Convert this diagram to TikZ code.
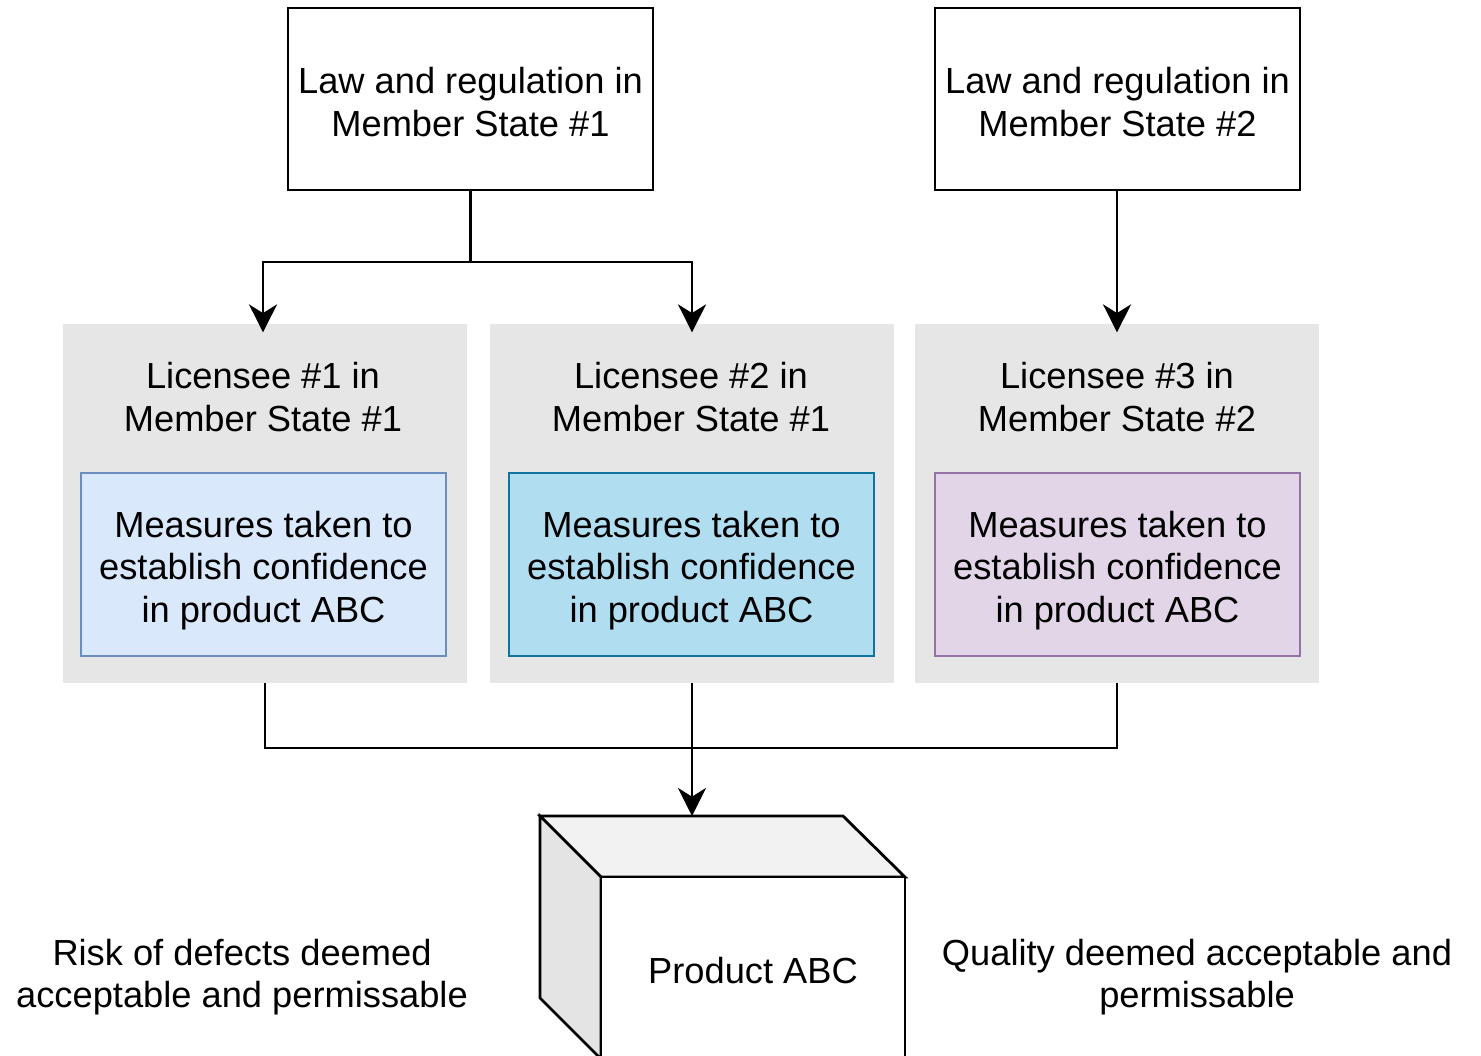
\documentclass[tikz,border=0pt]{standalone}
\usepackage{fontspec}
\setmainfont{Liberation Sans}
\usetikzlibrary{arrows.meta}
\definecolor{panelgray}{HTML}{E6E6E6}
\definecolor{bluefill}{HTML}{DAE8FC}
\definecolor{bluedraw}{HTML}{6C8EBF}
\definecolor{cyanfill}{HTML}{B1DDF0}
\definecolor{cyandraw}{HTML}{10739E}
\definecolor{purplefill}{HTML}{E1D5E7}
\definecolor{purpledraw}{HTML}{9673A6}
\definecolor{cubetopfill}{HTML}{F2F2F2}
\definecolor{cubesidefill}{HTML}{E4E4E4}
\begin{document}
\begin{tikzpicture}[x=0.75pt,y=-0.75pt,
  every node/.style={font=\fontsize{27.2}{32}\selectfont, align=center, inner sep=0pt},
  lawbox/.style={draw=black, line width=2.1pt, fill=white, minimum width=273.75pt, minimum height=136.5pt},
  panel/.style={fill=panelgray, minimum width=303pt, minimum height=269.25pt},
  measure/.style={line width=2.1pt, minimum width=273.75pt, minimum height=137.25pt},
  wire/.style={draw=black, line width=2.1pt},
  arrow/.style={wire, -{Stealth[length=21pt, width=21pt, inset=6.5pt]}},
  facestyle/.style={draw=black, line width=2.1pt, line join=miter}]
\clip (0,0) rectangle (1481,1056);
\fill[white] (0,0) rectangle (1481,1056);

% regulation boxes
\node[lawbox] (law1) at (470.5,99) {};
\node (law1text) at ([yshift=-2.3pt]law1.center) {Law and regulation in\\Member State \#1};
\node[lawbox] (law2) at (1117.5,99) {};
\node (law2text) at ([yshift=-2.3pt]law2.center) {Law and regulation in\\Member State \#2};

% licensee panels
\node[panel] (p1) at (265,503.5) {};
\node[panel] (p2) at (692,503.5) {};
\node[panel] (p3) at (1117,503.5) {};
\node (t1) at (263,397) {Licensee \#1 in\\Member State \#1};
\node (t2) at (691,397) {Licensee \#2 in\\Member State \#1};
\node (t3) at (1117,397) {Licensee \#3 in\\Member State \#2};

% measures inside each panel
\node[measure, fill=bluefill, draw=bluedraw] (m1) at (263.5,564.5) {};
\node[measure, fill=cyanfill, draw=cyandraw] (m2) at (691.5,564.5) {};
\node[measure, fill=purplefill, draw=purpledraw] (m3) at (1117.5,564.5) {};
\node (m1text) at ([yshift=-4.5pt]m1.center) {Measures taken to\\establish confidence\\in product ABC};
\node (m2text) at ([yshift=-4.5pt]m2.center) {Measures taken to\\establish confidence\\in product ABC};
\node (m3text) at ([yshift=-4.5pt]m3.center) {Measures taken to\\establish confidence\\in product ABC};

% product cube
\filldraw[facestyle, fill=cubetopfill] (540,816) -- (843,816) -- (905,877) -- (601,877) -- cycle;
\filldraw[facestyle, fill=cubesidefill] (540,816) -- (601,877) -- (601,1059) -- (540,998) -- cycle;
\filldraw[facestyle, fill=white] (601,877) rectangle (905,1059);
\node (prod) at (753,971) {Product ABC};
\coordinate (cubetop) at (692,816);

% side notes
\node (risk) at (242,977) {Risk of defects deemed\\acceptable and permissable};
\node (qual) at (1197,977) {Quality deemed acceptable and\\permissable};

% connectors from regulations to licensees
\coordinate (j1) at (470.5,262);
\draw[wire] (law1.south) -- (j1);
\draw[arrow] (j1) -| ([yshift=-6.5pt]t1.north |- p1.north);
\draw[arrow] (j1) -| ([yshift=-6.5pt]p2.north);
\draw[arrow] (law2.south -| p3.north) -- ([yshift=-6.5pt]p3.north);

% connectors from licensees to product
\coordinate (j2) at (692,748);
\draw[wire] (p1.south) |- (j2);
\draw[wire] (p3.south) |- (j2);
\draw[arrow] (p2.south) -- (cubetop);
\end{tikzpicture}
\end{document}
